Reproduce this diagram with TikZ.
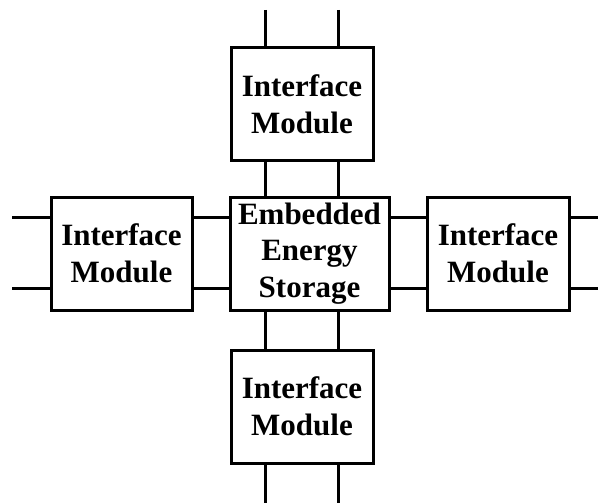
\documentclass[tikz,border=0pt]{standalone}
\usepackage{fontspec}
\setmainfont{Liberation Serif}
\usetikzlibrary{calc}
\begin{document}
\begin{tikzpicture}[x=1pt,y=-1pt,
  module/.style={draw, line width=3pt, inner sep=0pt, align=center,
    font=\fontsize{31}{36.5}\selectfont\bfseries, minimum height=113pt},
  wire/.style={line width=3pt}]
\useasboundingbox (0,0) rectangle (598,503);

% modules
\node[module, minimum width=142pt] (top) at (302,104.5) {Interface\\Module};
\node[module, minimum width=141pt] (lft) at (121.5,253.5) {Interface\\Module};
\node[module, minimum width=159pt] (ctr) at (309.5,253.5) {Embedded\\Energy\\Storage};
\node[module, minimum width=142pt] (rgt) at (498,253.5) {Interface\\Module};
\node[module, minimum width=142pt] (bot) at (302,406.5) {Interface\\Module};

% free ends of the bus lines
\coordinate (upend) at (0,10);
\coordinate (downend) at (0,503);
\coordinate (leftend) at (12,0);
\coordinate (rightend) at (598,0);

% vertical bus
\foreach \f in {0.25,0.75}{
  \path ($(top.south west)!\f!(top.south east)$) coordinate (a);
  \draw[wire] (a |- upend) -- (a |- top.north);
  \draw[wire] (a |- top.south) -- (a |- ctr.north);
  \draw[wire] (a |- ctr.south) -- (a |- bot.north);
  \draw[wire] (a |- bot.south) -- (a |- downend);
}

% horizontal bus
\foreach \f in {0.186,0.805}{
  \path ($(ctr.north west)!\f!(ctr.south west)$) coordinate (b);
  \draw[wire] (leftend |- b) -- (lft.west |- b);
  \draw[wire] (lft.east |- b) -- (ctr.west |- b);
  \draw[wire] (ctr.east |- b) -- (rgt.west |- b);
  \draw[wire] (rgt.east |- b) -- (rightend |- b);
}
\end{tikzpicture}
\end{document}
